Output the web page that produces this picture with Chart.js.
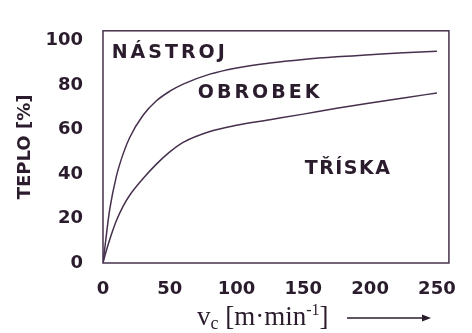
<!DOCTYPE html>
<html>
<head>
<meta charset="utf-8">
<script src="https://cdn.jsdelivr.net/npm/chart.js@4.4.0/dist/chart.umd.min.js"></script>
<style>
  html, body { margin: 0; padding: 0; background: #fff; }
  canvas { display: block; }
</style>
</head>
<body>
<canvas id="heatChart" width="472" height="333"></canvas>
<script>
// Data
const speed = [0, 2, 5, 10, 15, 20, 30, 40, 50, 60, 80, 100, 125, 150, 175, 200, 225, 250];
const toolLine = [0, 10, 24, 39, 49, 56.5, 66.5, 73, 77.3, 80.5, 85, 87.8, 90, 91.6, 92.8, 93.7, 94.6, 95.3];
const chipLine = [0, 4.5, 10.5, 19, 25.5, 30.5, 38, 44.5, 50, 54.3, 59.2, 62, 64.5, 67, 69.6, 72, 74.3, 76.5];
const xTicks = [0, 50, 100, 150, 200, 250];
const yTicks = [0, 20, 40, 60, 80, 100];
const regionNames = ['NÁSTROJ', 'OBROBEK', 'TŘÍSKA'];

const ink = '#2a1c2c';
const lineInk = '#45304d';

// where the region names sit (in data units) and their letter spacing
const regionPlace = [
    { x: 6.5, y: 94.6, spacing: 3 },
    { x: 71, y: 76.6, spacing: 3 },
    { x: 151, y: 42.3, spacing: 1.5 }
];

const regionLabels = {
    id: 'regionLabels',
    afterDatasetsDraw(chart) {
        const { ctx, scales } = chart;
        ctx.save();
        ctx.fillStyle = ink;
        ctx.font = 'bold 19px "DejaVu Sans"';
        ctx.textBaseline = 'middle';
        ctx.textAlign = 'left';
        regionNames.forEach((name, i) => {
            const p = regionPlace[i];
            ctx.letterSpacing = p.spacing + 'px';
            ctx.fillText(name, scales.x.getPixelForValue(p.x), scales.y.getPixelForValue(p.y));
        });
        ctx.letterSpacing = '0px';
        ctx.restore();
    }
};

// frame round the plot + x axis title with sub/superscript and arrow
const frameAndTitle = {
    id: 'frameAndTitle',
    afterDraw(chart) {
        const { ctx, chartArea: a } = chart;
        ctx.save();
        ctx.strokeStyle = lineInk;
        ctx.lineWidth = 1.5;
        ctx.strokeRect(a.left, a.top, a.right - a.left, a.bottom - a.top);

        let x = 197;
        const base = 325;
        ctx.fillStyle = ink;
        ctx.textBaseline = 'alphabetic';
        ctx.textAlign = 'left';
        const put = (txt, size, dy) => {
            ctx.font = size + 'px "Liberation Serif"';
            ctx.fillText(txt, x, base + dy);
            x += ctx.measureText(txt).width;
        };
        put('v', 27, 0);
        put('c', 18, 4);
        put(' [m·min', 27, 0);
        put('-1', 16, -10);
        put(']', 27, 0);

        // arrow
        ctx.strokeStyle = ink;
        ctx.lineWidth = 1.5;
        ctx.beginPath();
        ctx.moveTo(347, 318);
        ctx.lineTo(424, 318);
        ctx.stroke();
        ctx.beginPath();
        ctx.moveTo(431, 318);
        ctx.lineTo(422, 314.5);
        ctx.lineTo(422, 321.5);
        ctx.closePath();
        ctx.fill();
        ctx.restore();
    }
};

const tickFont = { family: 'DejaVu Sans', size: 18, weight: 'bold' };

new Chart(document.getElementById('heatChart'), {
    type: 'line',
    data: {
        datasets: [
            {
                label: 'nástroj / obrobek',
                data: speed.map((v, i) => ({ x: v, y: toolLine[i] })),
                borderColor: lineInk,
                borderWidth: 1.5,
                pointRadius: 0,
                cubicInterpolationMode: 'monotone',
                fill: false
            },
            {
                label: 'obrobek / tříska',
                data: speed.map((v, i) => ({ x: v, y: chipLine[i] })),
                borderColor: lineInk,
                borderWidth: 1.5,
                pointRadius: 0,
                cubicInterpolationMode: 'monotone',
                fill: false
            }
        ]
    },
    options: {
        responsive: false,
        animation: false,
        devicePixelRatio: 1,
        layout: { padding: { top: 14, right: 9, left: 0, bottom: 0 } },
        plugins: {
            legend: { display: false },
            tooltip: { enabled: false }
        },
        scales: {
            x: {
                type: 'linear',
                min: 0,
                max: 259,
                afterBuildTicks: s => { s.ticks = xTicks.map(v => ({ value: v })); },
                afterFit: s => { s.height = 70; },
                grid: { display: false, drawTicks: false },
                border: { display: false },
                ticks: { font: tickFont, color: ink, padding: 16, maxRotation: 0 }
            },
            y: {
                type: 'linear',
                min: 0,
                max: 104.5,
                afterBuildTicks: s => { s.ticks = yTicks.map(v => ({ value: v })); },
                afterFit: s => { s.width = 103; },
                grid: { display: false, drawTicks: false },
                border: { display: false },
                ticks: { font: tickFont, color: ink, padding: 20 },
                title: {
                    display: true,
                    text: 'TEPLO [%]',
                    color: ink,
                    font: { family: 'DejaVu Sans', size: 18, weight: 'bold' },
                    padding: { top: 15, bottom: 0 }
                }
            }
        }
    },
    plugins: [regionLabels, frameAndTitle]
});
</script>
</body>
</html>
